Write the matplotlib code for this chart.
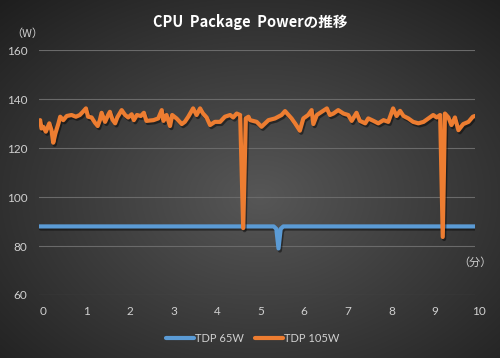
import numpy as np
import matplotlib
matplotlib.use('Agg')
import matplotlib.pyplot as plt
import matplotlib.patheffects as pe
from matplotlib.transforms import ScaledTranslation

# TDP 65W (blue)
t65 = [0.0, 5.38, 5.44, 5.49, 5.54, 5.60, 10.0]
p65 = [88.0, 88.0, 87.0, 79.0, 87.0, 88.0, 88.0]

# TDP 105W (orange)
t105 = [0.02, 0.05, 0.09, 0.15, 0.23, 0.28, 0.32, 0.37, 0.44, 0.48, 0.55, 0.63, 0.74, 0.84,
        0.93, 1.00, 1.07, 1.12, 1.20, 1.28, 1.34, 1.39, 1.43, 1.51, 1.58, 1.62, 1.68, 1.74,
        1.79, 1.89, 1.97, 2.04, 2.12, 2.17, 2.24, 2.33, 2.40, 2.46, 2.62, 2.73, 2.81, 2.85,
        2.92, 3.00, 3.05, 3.15, 3.27, 3.34, 3.42, 3.53, 3.61, 3.69, 3.76, 3.84, 3.92, 4.03,
        4.15, 4.26, 4.38, 4.45, 4.53, 4.61, 4.68, 4.74, 4.80, 4.84, 4.99, 5.10, 5.26, 5.41,
        5.56, 5.64, 5.72, 5.79, 5.87, 5.98, 6.06, 6.17, 6.25, 6.29, 6.37, 6.48, 6.60, 6.67,
        6.75, 6.86, 6.98, 7.09, 7.17, 7.28, 7.36, 7.48, 7.55, 7.67, 7.78, 7.90, 8.01, 8.12,
        8.20, 8.28, 8.36, 8.47, 8.58, 8.70, 8.82, 8.93, 9.04, 9.12, 9.20, 9.26, 9.31, 9.39,
        9.46, 9.54, 9.62, 9.73, 9.85, 9.95, 10.0]
p105 = [131.4, 128.0, 128.7, 126.7, 130.1, 127.3, 122.2, 126.0, 130.1, 132.8, 131.4, 133.1, 133.5, 132.8,
        133.5, 134.8, 136.2, 132.8, 132.5, 130.3, 129.0, 131.4, 134.4, 130.7, 133.5, 134.8, 131.6, 130.1,
        132.5, 135.5, 133.5, 132.5, 133.8, 131.4, 133.5, 133.1, 134.4, 131.1, 131.4, 132.1, 135.5, 131.1,
        133.5, 129.0, 133.5, 132.1, 129.8, 130.7, 132.8, 136.2, 133.5, 136.2, 134.1, 132.5, 129.4, 130.7,
        130.7, 132.8, 133.5, 132.5, 134.1, 133.5, 87.3, 132.1, 132.8, 131.4, 130.7, 128.7, 131.4, 132.1,
        133.5, 135.1, 133.5, 132.1, 130.1, 127.1, 132.1, 133.5, 135.5, 129.8, 133.5, 134.8, 136.2, 133.5,
        134.1, 135.5, 134.1, 133.5, 131.1, 134.4, 131.1, 130.1, 132.1, 131.1, 130.1, 131.4, 130.7, 136.2,
        133.1, 135.2, 133.1, 132.1, 130.7, 130.1, 130.7, 132.1, 133.5, 132.5, 133.5, 83.7, 134.1, 132.5,
        129.4, 132.5, 127.3, 129.8, 130.7, 132.8, 133.1]

labels = ['TDP 65W', 'TDP 105W']
colors = ['#5B9BD5', '#ED7D31']

fig = plt.figure(figsize=(5, 3.58), dpi=100)

# dark radial background
bg = fig.add_axes([0, 0, 1, 1], zorder=-10)
yy, xx = np.mgrid[0:1:358j, 0:1:500j]
r = np.sqrt(((xx - 0.52) / 0.75) ** 2 + ((yy - 0.55) / 0.75) ** 2)
shade = np.clip(0.34 - 0.22 * r, 0.12, 0.35)
bg.imshow(np.dstack([shade] * 3), aspect='auto', extent=[0, 1, 0, 1])
bg.axis('off')

ax = fig.add_axes([0.0786, 0.176, 0.8714, 0.684])
ax.set_facecolor('none')
shadow = [pe.SimpleLineShadow(offset=(1.0, -1.5), shadow_color='black', alpha=0.45), pe.Normal()]
ax.plot(t65, p65, color=colors[0], lw=3.0, label=labels[0], solid_joinstyle='round',
        solid_capstyle='round', path_effects=shadow, zorder=3)
ax.plot(t105, p105, color=colors[1], lw=3.0, label=labels[1], solid_joinstyle='round',
        solid_capstyle='round', path_effects=shadow, zorder=4)

ax.set_xlim(0, 10)
ax.set_ylim(60, 160)
ax.set_xticks(range(0, 11))
ax.set_yticks(range(60, 161, 20))
ax.grid(axis='y', color='#6a6a6a', lw=0.8)
ax.set_axisbelow(True)
for s in ax.spines.values():
    s.set_visible(False)
ax.tick_params(length=0, labelcolor='#d0d0d0', labelsize=8.5)
ax.tick_params(axis='y', pad=8.5)
ax.tick_params(axis='x', pad=8)
for lab in ax.get_xticklabels() + ax.get_yticklabels():
    lab.set_family(['Lato', 'DejaVu Sans'])
off = ScaledTranslation(3.5 / 100, 0, fig.dpi_scale_trans)
for lab in ax.get_xticklabels():
    lab.set_transform(lab.get_transform() + off)

jp = ['Noto Sans CJK JP', 'DejaVu Sans']
fig.text(0.5, 1 - 22 / 358, 'CPU  Package  Powerの推移', ha='center', va='center',
         color='white', fontsize=10.5, fontweight='bold', family=jp)
fig.text(27.5 / 500, 1 - 34 / 358, '（W）', ha='center', va='center',
         color='#d0d0d0', fontsize=8, family=jp)
fig.text(475 / 500, 1 - 263 / 358, '（分）', ha='center', va='center',
         color='#d0d0d0', fontsize=8, family=jp)

leg = fig.legend(loc='center', bbox_to_anchor=(0.505, 1 - 338 / 358), ncol=2, frameon=False,
                 handlelength=2.5, handletextpad=0.1, columnspacing=1.0,
                 prop={'family': ['Lato', 'DejaVu Sans'], 'size': 8})
for txt in leg.get_texts():
    txt.set_color('#d0d0d0')
for h in leg.get_lines():
    h.set_path_effects([])
    h.set_linewidth(3.0)

fig.savefig('out.png', dpi=100)
